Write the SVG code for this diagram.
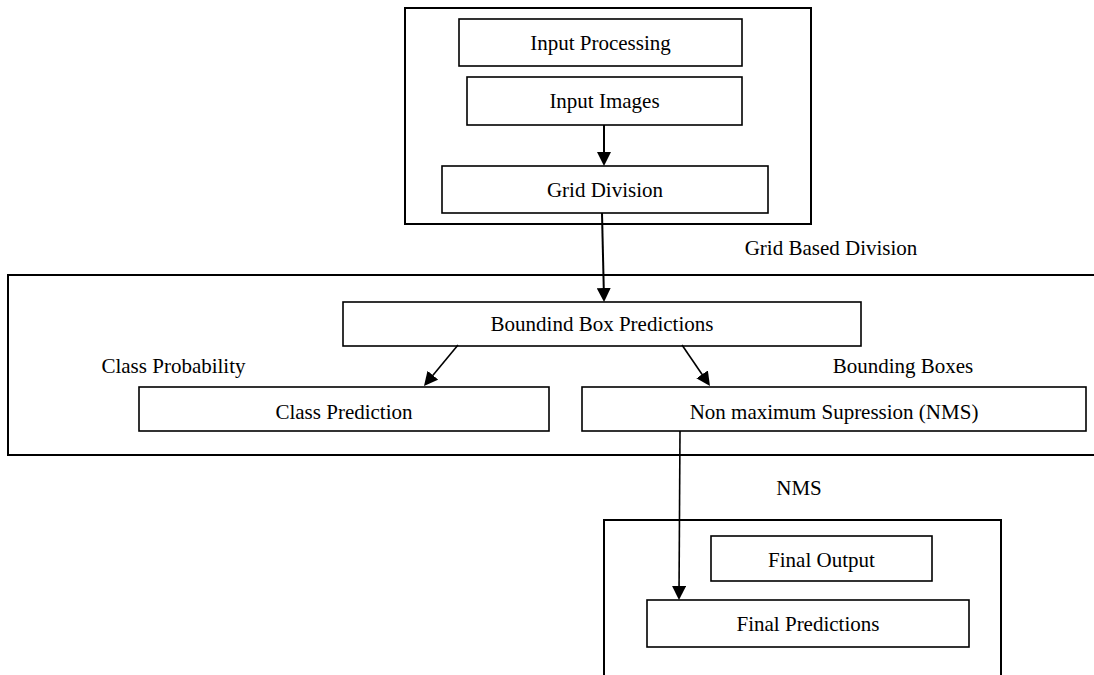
<svg xmlns="http://www.w3.org/2000/svg" width="1094" height="675" viewBox="0 0 1094 675">
  <style>
    .frame { fill: none; stroke: #000; stroke-width: 2; }
    .box { fill: #fff; stroke: #000; stroke-width: 1.6; }
    .lbl { font-family: "Liberation Serif", "Times New Roman", serif; font-size: 21px; fill: #000; text-anchor: middle; }
    .edge { fill: none; stroke: #000; stroke-width: 2; }
    .edge.thin { stroke-width: 1.6; }
  </style>
  <defs>
    <marker id="arrow" viewBox="0 0 14 14" refX="11" refY="7" markerWidth="14" markerHeight="14" orient="auto" markerUnits="userSpaceOnUse">
      <path d="M0,0 L14,7 L0,14 Z" fill="#000"/>
    </marker>
  </defs>
  <rect width="1094" height="675" fill="#fff"/>

  <!-- stage containers -->
  <g id="stage-input">
    <rect class="frame" x="405" y="8" width="406" height="216"/>
  </g>
  <g id="stage-prediction">
    <rect class="frame" x="8" y="275" width="1100" height="180"/>
  </g>
  <g id="stage-output">
    <path class="frame" d="M604,675 L604,520 L1001,520 L1001,675"/>
  </g>

  <!-- process boxes -->
  <g id="input-processing">
    <rect class="box" x="459" y="19" width="283" height="47"/>
    <text class="lbl" x="600.5" y="50">Input Processing</text>
  </g>
  <g id="input-images">
    <rect class="box" x="467" y="77" width="275" height="48"/>
    <text class="lbl" x="604.5" y="108">Input Images</text>
  </g>
  <g id="grid-division">
    <rect class="box" x="442" y="166" width="326" height="47"/>
    <text class="lbl" x="605" y="197">Grid Division</text>
  </g>
  <g id="bbox-predictions">
    <rect class="box" x="343" y="302" width="518" height="44"/>
    <text class="lbl" x="602" y="331">Boundind Box Predictions</text>
  </g>
  <g id="class-prediction">
    <rect class="box" x="139" y="387" width="410" height="44"/>
    <text class="lbl" x="344" y="419">Class Prediction</text>
  </g>
  <g id="nms">
    <rect class="box" x="582" y="387" width="504" height="44"/>
    <text class="lbl" x="834" y="419">Non maximum Supression (NMS)</text>
  </g>
  <g id="final-output">
    <rect class="box" x="711" y="536" width="221" height="45"/>
    <text class="lbl" x="821.5" y="567">Final Output</text>
  </g>
  <g id="final-predictions">
    <rect class="box" x="647" y="600" width="322" height="47"/>
    <text class="lbl" x="808" y="631">Final Predictions</text>
  </g>

  <!-- edge labels -->
  <g id="edge-labels">
    <text class="lbl" x="831" y="255">Grid Based Division</text>
    <text class="lbl" x="173.5" y="373">Class Probability</text>
    <text class="lbl" x="903" y="373">Bounding Boxes</text>
    <text class="lbl" x="799" y="495">NMS</text>
  </g>

  <!-- connectors -->
  <g id="connectors">
    <line class="edge" x1="604" y1="125" x2="604" y2="163" marker-end="url(#arrow)"/>
    <line class="edge" x1="602" y1="213" x2="604" y2="299" marker-end="url(#arrow)"/>
    <line class="edge thin" x1="458" y1="345" x2="425.9" y2="383.7" marker-end="url(#arrow)"/>
    <line class="edge thin" x1="682" y1="345" x2="708.3" y2="383.5" marker-end="url(#arrow)"/>
    <line class="edge thin" x1="680" y1="431" x2="679" y2="597" marker-end="url(#arrow)"/>
  </g>
</svg>
